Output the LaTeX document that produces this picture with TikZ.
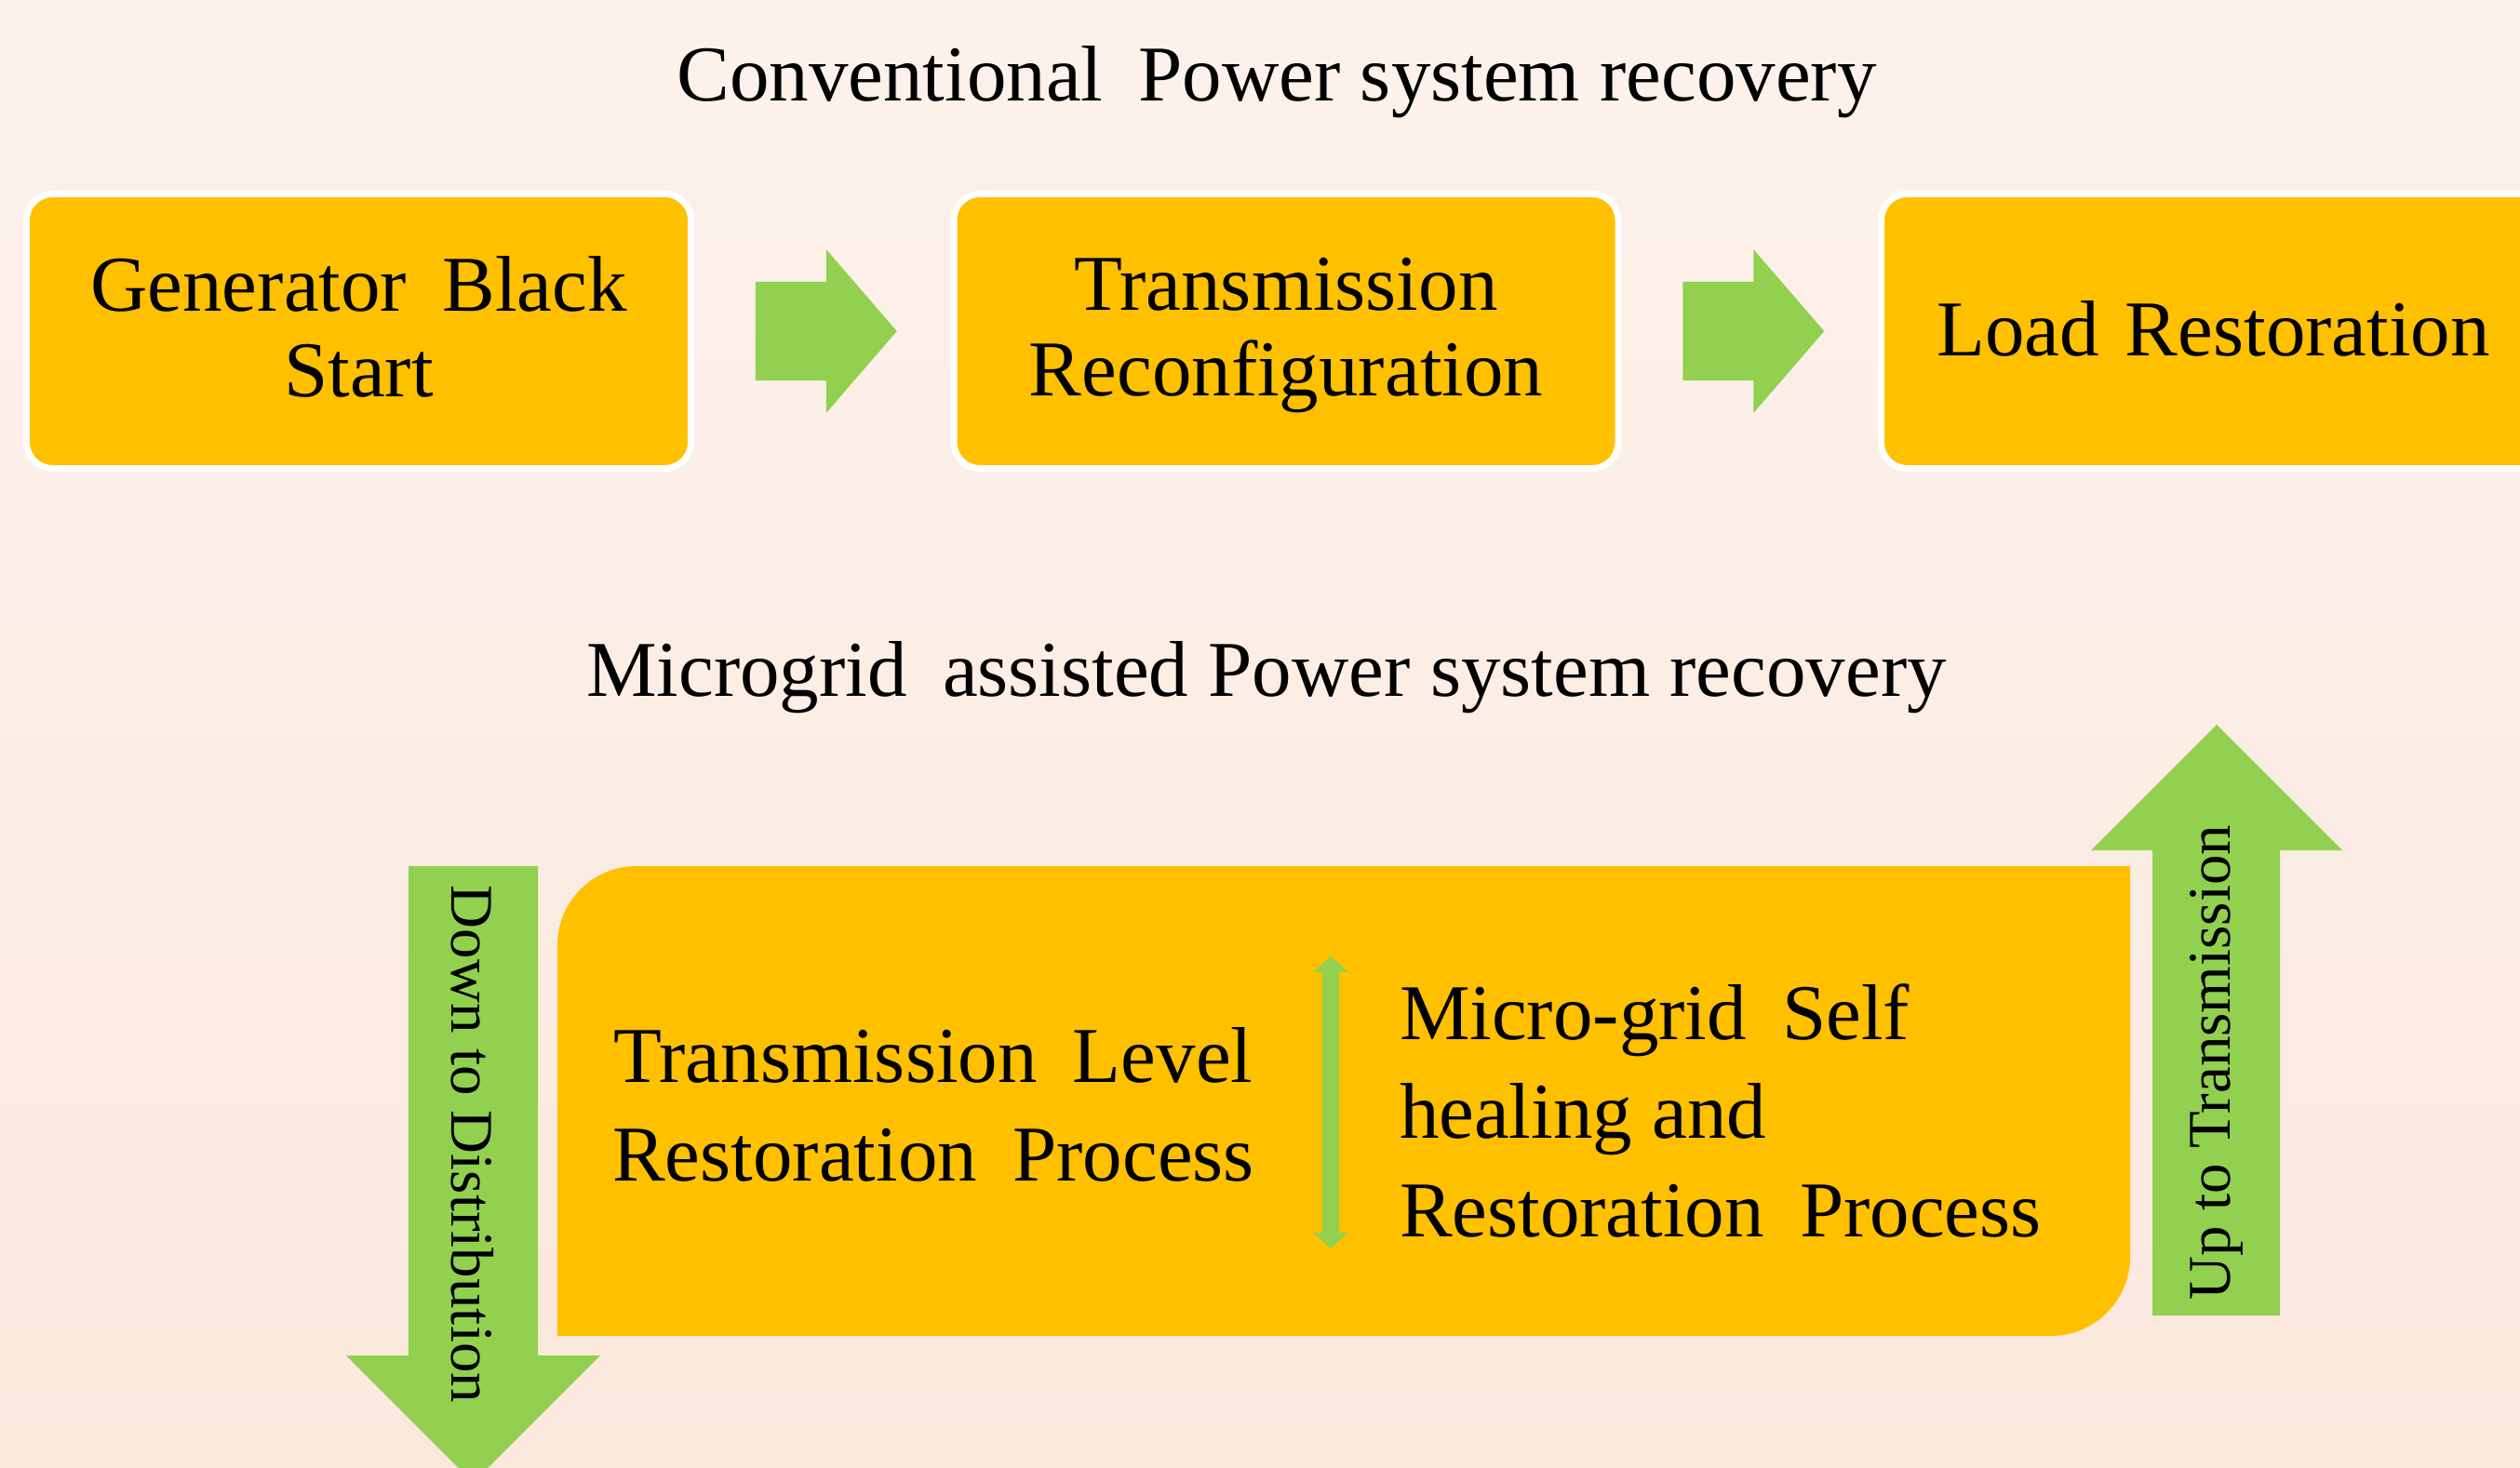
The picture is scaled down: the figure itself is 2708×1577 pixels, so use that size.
\documentclass[tikz,border=0pt]{standalone}
\usepackage{fontspec}
\setmainfont{Liberation Serif}
\usetikzlibrary{calc,arrows.meta}
\definecolor{boxyellow}{HTML}{FFC000}
\definecolor{arrowgreen}{HTML}{92D050}
\definecolor{bgtop}{HTML}{FCF2EC}
\definecolor{bgbottom}{HTML}{FBE8DD}
\newcommand{\wgap}{\hspace{0.2em}}

\begin{document}
\begin{tikzpicture}[x=0.2pt,y=0.2pt,
  stage/.style={rectangle, rounded corners=5.6pt, fill=boxyellow, draw=white,
    line width=1.4pt, minimum width=142.8pt, minimum height=59pt, inner sep=0pt},
  stagetext/.style={inner sep=0pt, align=center, font=\fontsize{17}{18.4}\selectfont},
  heading/.style={inner sep=0pt, font=\fontsize{17}{20}\selectfont},
  bodytext/.style={inner sep=0pt, font=\fontsize{17}{21.2}\selectfont},
  sidetext/.style={inner sep=0pt, font=\fontsize{13}{15}\selectfont},
  rarrow/.pic={\fill[arrowgreen] (-76,53) -- (0,53) -- (0,88) -- (76,0)
      -- (0,-88) -- (0,-53) -- (-76,-53) -- cycle;},
  dblarrow/.style={draw=arrowgreen, line width=3.6pt,
    {Triangle[width=7.4pt,length=3.4pt]}-{Triangle[width=7.4pt,length=3.4pt]}}]

% canvas and soft background
\useasboundingbox (0,0) rectangle (2708,1577);
\clip (0,0) rectangle (2708,1577);
\shade[top color=bgtop, bottom color=bgbottom] (0,0) rectangle (2708,1577);

% conventional sequence
\node[heading] (conv) at (1372,1489) {Conventional\wgap{} Power system recovery};
\node[stage] (gen)   at (385.5,1221) {};
\node[stage] (trans) at (1382,1221)  {};
\node[stage] (load)  at (2378.5,1221) {};
\node[stagetext] (gentext)   at ([yshift=1pt]gen.center)     {Generator\wgap{} Black\\Start};
\node[stagetext] (transtext) at ([yshift=-0.9pt]trans.center) {Transmission\\Reconfiguration};
\node[stagetext] (loadtext)  at ([yshift=0.6pt]load.center)   {Load\hspace{0.08em} Restoration};

\coordinate (ar1) at ($(gen.east)!0.5!(trans.west)+(4,0)$);
\coordinate (ar2) at ($(trans.east)!0.5!(load.west)+(4,0)$);
\pic at (ar1) {rarrow};
\pic at (ar2) {rarrow};

% microgrid assisted process
\node[heading] (mgtitle) at (1361,849) {Microgrid\wgap{} assisted Power system recovery};

\node[inner sep=0pt, outer sep=0pt, minimum width=338pt, minimum height=101pt] (mg) at (1444,393.5) {};
\fill[boxyellow] (mg.south west) -- ([yshift=-17pt]mg.north west)
  arc[start angle=180, end angle=90, radius=17pt] -- (mg.north east)
  -- ([yshift=17pt]mg.south east)
  arc[start angle=0, end angle=-90, radius=17pt] -- cycle;

\node[bodytext, align=center] (tl) at (1003,389.5)
  {Transmission\wgap{} Level\\Restoration\wgap{} Process};
\node[bodytext, align=left, anchor=west] (sh) at (1503,383)
  {Micro-grid\wgap{} Self\\healing and\\Restoration\wgap{} Process};

\coordinate (dvtop) at (1430,549);
\coordinate (dvbot) at (1430,235);
\draw[dblarrow] (dvbot) -- (dvtop);

% side arrows between levels
\fill[arrowgreen] (439,646) -- (578,646) -- (578,120) -- (645,120)
  -- (508.5,-16.5) -- (372,120) -- (439,120) -- cycle;
\node[sidetext, rotate=-90] (down) at (508,347) {Down to Distribution};

\fill[arrowgreen] (2313,163) -- (2450,163) -- (2450,663) -- (2517,663)
  -- (2382,798) -- (2247,663) -- (2313,663) -- cycle;
\node[sidetext, rotate=90] (up) at (2382,435) {Up to Transmission};
\end{tikzpicture}
\end{document}
